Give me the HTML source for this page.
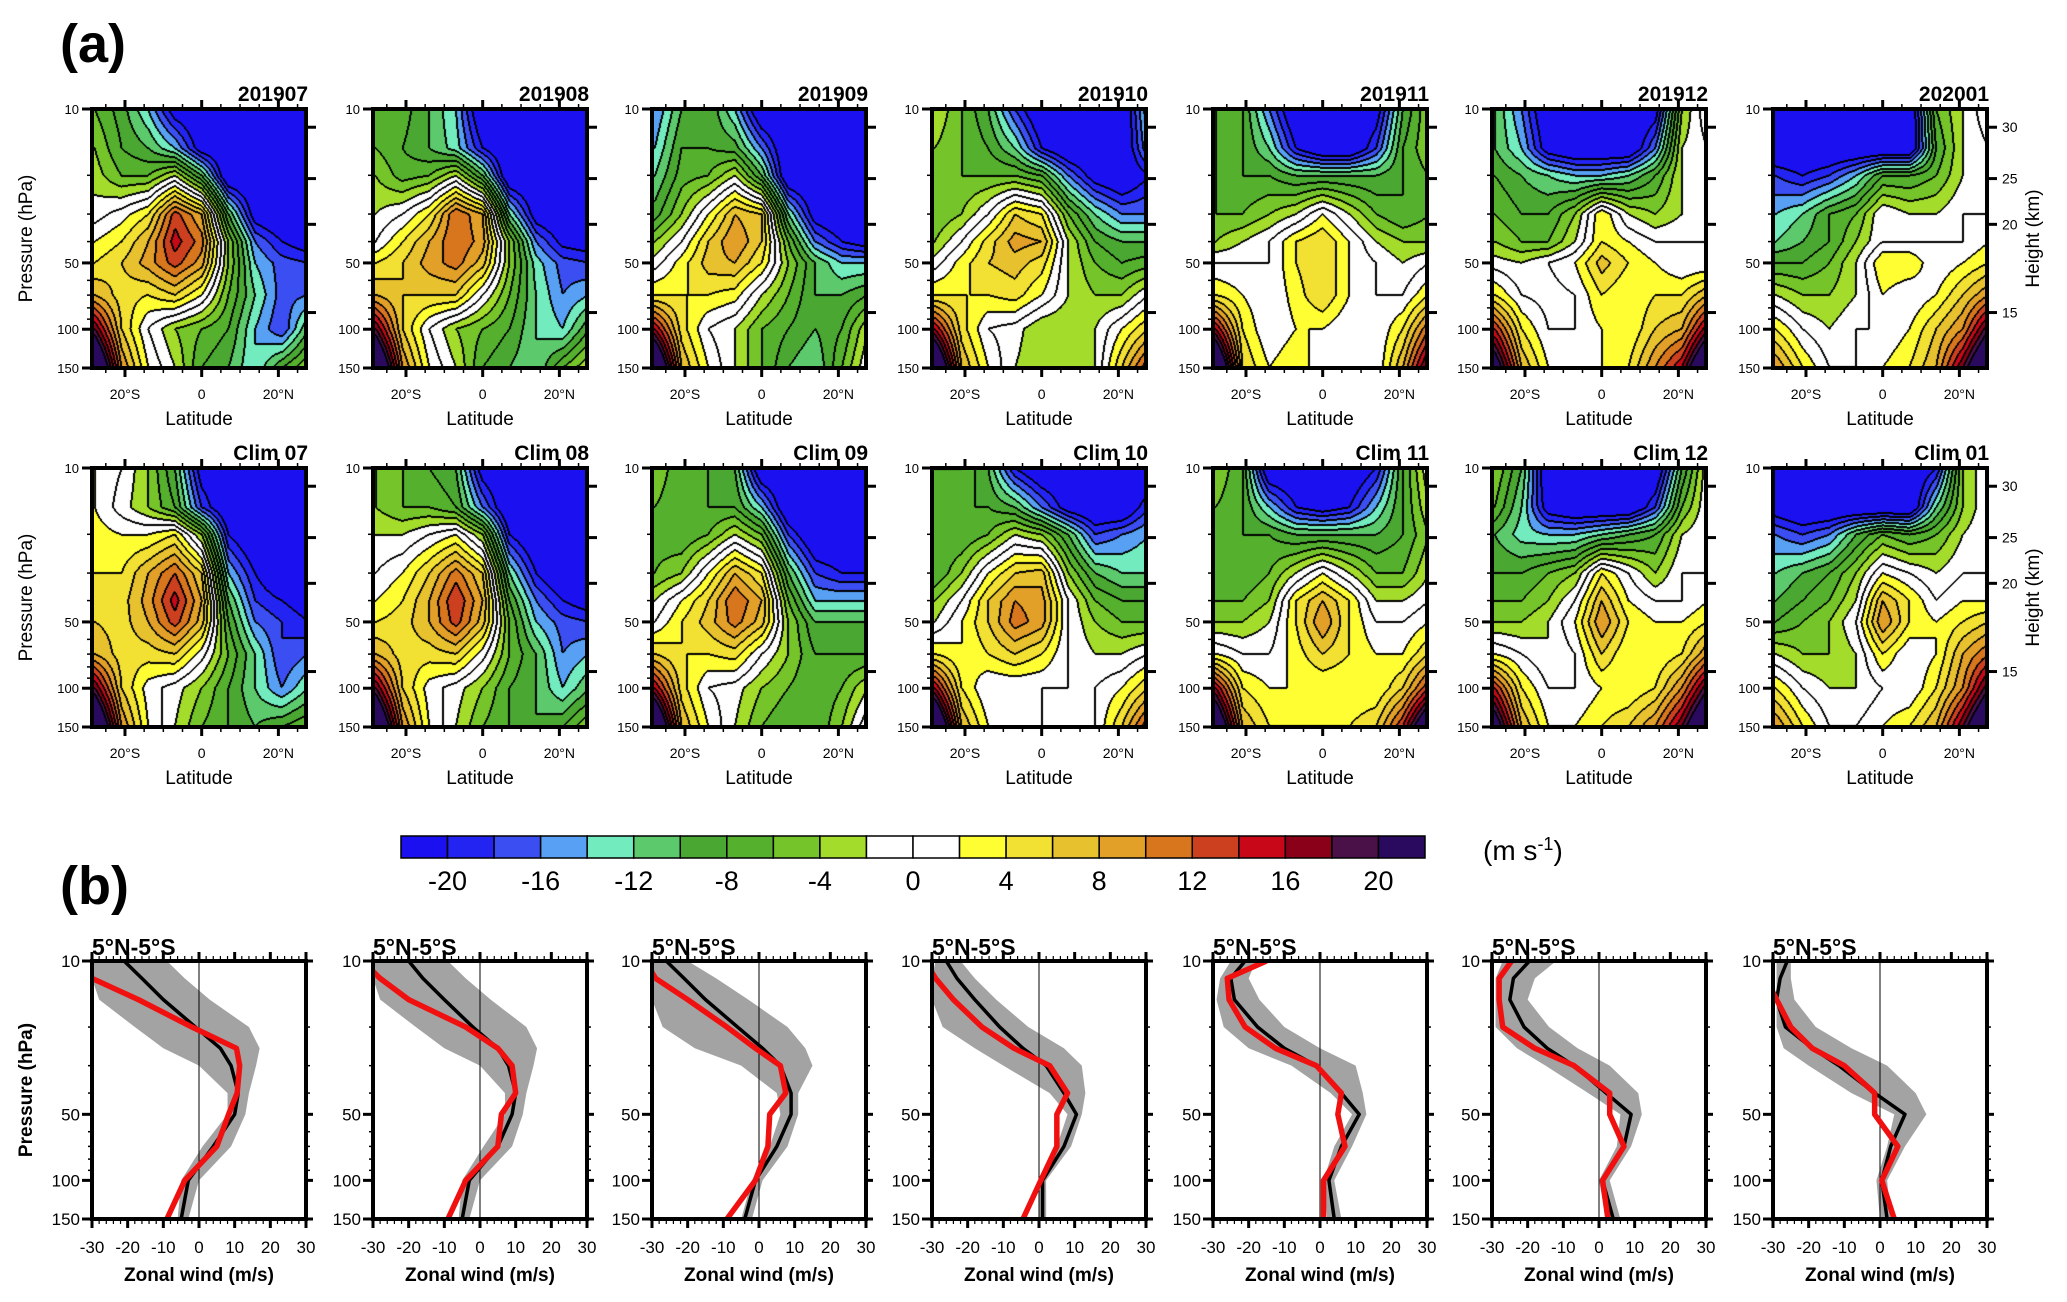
<!DOCTYPE html>
<html><head><meta charset="utf-8">
<style>
html,body{margin:0;padding:0;background:#fff;}
#wrap{position:relative;width:2067px;height:1302px;overflow:hidden;background:#fff;}
#cv{position:absolute;left:0;top:0;}
#ov{position:absolute;left:0;top:0;}
text{font-family:"Liberation Sans Narrow","Liberation Sans",sans-serif;}
</style></head>
<body>
<div id="wrap">
<canvas id="cv" width="2067" height="1302"></canvas>
<svg id="ov" width="2067" height="1302" xmlns="http://www.w3.org/2000/svg"></svg>
</div>
<script>
// ---------- data: contour grids (rows = pressure levels, cols = latitudes) ----------
const levels=[10,15,20,30,40,50,70,100,150];
const lats=[-28,-21,-14,-7,0,7,14,21,28];
const colorbarTicks=[-20,-16,-12,-8,-4,0,4,8,12,16,20];
const topTitles=["201907","201908","201909","201910","201911","201912","202001"];
const climTitles=["Clim 07","Clim 08","Clim 09","Clim 10","Clim 11","Clim 12","Clim 01"];
const obs201907=[[-6,-9,-14,-22,-24,-24,-24,-24,-24],[-4,-8,-10,-14,-22,-24,-24,-24,-24],[-3,-6,-6,-2,-10,-24,-24,-24,-24],[-1,1,4,13,8,-10,-22,-24,-24],[2,4,8,15,11,-4,-16,-20,-22],[4,6,9,13,9,-4,-14,-17,-18],[8,5,4,6,2,-6,-12,-17,-16],[18,6,0,-4,-6,-8,-14,-18,-10],[30,10,2,-2,-8,-10,-14,-8,-4]];
const obs201908=[[-8,-7,-10,-14,-24,-24,-24,-24,-24],[-6,-8,-10,-13,-20,-24,-24,-24,-24],[-4,-7,-6,-2,-10,-24,-24,-24,-24],[-2,0,4,12,8,-12,-22,-24,-24],[0,4,8,12,9,-4,-16,-21,-22],[4,6,9,11,7,-4,-13,-17,-18],[8,6,6,6,0,-6,-12,-16,-14],[18,6,0,-4,-6,-8,-12,-14,-8],[30,10,2,-2,-8,-10,-12,-6,-2]];
const obs201909=[[-16,-10,-8,-14,-24,-24,-24,-24,-24],[-14,-8,-8,-9,-16,-24,-24,-24,-24],[-12,-7,-6,-2,-10,-24,-24,-24,-24],[-9,-4,2,8,6,-12,-22,-24,-24],[-4,0,6,10,6,-6,-16,-20,-22],[-1,3,7,8,4,-4,-10,-14,-14],[4,4,4,3,-2,-6,-10,-10,-8],[16,5,0,-2,-6,-8,-10,-8,-2],[30,8,2,-2,-6,-10,-12,-6,0]];
const obs201910=[[-2,-6,-10,-18,-24,-24,-24,-24,-12],[-4,-6,-8,-12,-20,-24,-24,-24,-14],[-5,-6,-6,-6,-8,-16,-22,-24,-20],[-6,-4,0,6,4,-6,-12,-16,-16],[-4,0,5,9,8,-2,-8,-10,-10],[-1,3,6,7,5,-2,-6,-8,-7],[4,4,4,5,2,-2,-4,-4,0],[16,5,0,-1,-4,-4,-2,2,6],[30,8,2,-2,-4,-4,-2,6,14]];
const obs201911=[[-6,-8,-16,-24,-24,-24,-22,-10,-4],[-6,-8,-12,-20,-24,-24,-18,-8,-4],[-6,-8,-8,-10,-10,-10,-10,-8,-6],[-6,-6,-4,-2,2,-2,-6,-8,-6],[-4,-2,0,4,6,2,-2,-4,-4],[0,0,0,4,6,2,0,-2,0],[4,2,0,3,6,2,0,0,4],[16,4,0,2,2,0,0,4,12],[30,6,2,4,0,0,0,8,20]];
const obs201912=[[-10,-16,-24,-24,-24,-24,-22,-4,2],[-10,-14,-22,-24,-24,-24,-16,-2,0],[-8,-10,-12,-14,-14,-12,-8,-2,0],[-6,-8,-8,-4,4,-2,-4,-2,0],[-4,-6,-6,-2,4,2,0,0,0],[-1,-2,0,2,7,4,2,0,0],[4,0,-1,0,4,2,4,4,8],[14,4,0,0,2,2,6,8,18],[24,8,2,0,2,4,10,16,30]];
const obs202001=[[-24,-24,-24,-24,-24,-24,-6,-2,2],[-24,-24,-24,-24,-24,-24,-8,-2,0],[-18,-20,-18,-14,-8,-8,-6,-2,0],[-14,-12,-8,-6,0,-2,-2,0,0],[-12,-10,-8,-4,0,0,0,0,2],[-8,-8,-6,-2,4,4,0,2,4],[-2,-4,-4,-2,2,0,2,6,10],[4,0,-2,0,0,2,6,10,20],[10,4,0,0,2,4,8,18,30]];
const clim07=[[2,0,-4,-10,-22,-24,-24,-24,-24],[2,-1,-4,-8,-18,-24,-24,-24,-24],[3,2,2,4,-4,-20,-24,-24,-24],[4,4,8,12,6,-14,-20,-24,-24],[5,5,9,15,8,-10,-18,-20,-22],[6,5,8,13,7,-8,-16,-18,-20],[8,5,5,6,1,-6,-12,-18,-16],[18,6,1,-1,-4,-8,-12,-16,-12],[30,10,2,-2,-6,-8,-10,-8,-6]];
const clim08=[[-4,-6,-8,-10,-22,-24,-24,-24,-24],[-4,-6,-6,-8,-16,-24,-24,-24,-24],[-2,-2,0,2,-4,-20,-24,-24,-24],[0,2,6,11,6,-12,-20,-24,-24],[2,4,8,14,8,-8,-16,-20,-22],[4,5,8,13,7,-6,-14,-17,-18],[8,5,5,6,1,-6,-10,-16,-14],[18,6,1,-1,-4,-8,-10,-14,-10],[30,10,2,-2,-6,-8,-10,-8,-4]];
const clim09=[[-4,-8,-8,-10,-24,-24,-24,-24,-24],[-6,-8,-8,-8,-14,-24,-24,-24,-24],[-7,-8,-6,-2,-6,-18,-24,-24,-24],[-6,-4,2,8,4,-10,-18,-20,-20],[-2,2,6,12,8,-6,-14,-14,-14],[0,4,7,11,7,-4,-10,-10,-10],[6,4,4,5,0,-4,-8,-8,-8],[16,5,0,-1,-4,-6,-8,-6,-2],[30,8,2,-2,-6,-8,-8,-4,2]];
const clim10=[[-6,-6,-10,-20,-24,-24,-24,-24,-24],[-8,-8,-8,-10,-16,-22,-24,-24,-18],[-8,-8,-6,-2,-4,-10,-18,-16,-14],[-8,-4,2,6,7,-4,-10,-12,-12],[-4,0,6,10,9,0,-6,-8,-8],[-2,2,6,11,9,0,-4,-6,-6],[4,2,4,6,4,0,-2,-2,0],[16,4,0,0,0,0,0,2,6],[30,8,2,0,0,-2,0,6,14]];
const clim11=[[-4,-8,-24,-24,-24,-24,-20,-8,0],[-6,-8,-14,-20,-22,-20,-14,-8,-2],[-8,-8,-8,-10,-10,-10,-10,-8,-4],[-8,-8,-6,-2,2,-2,-6,-6,-2],[-6,-6,-4,4,8,4,-2,-2,0],[-4,-4,-2,4,10,4,0,0,2],[2,0,0,3,6,4,2,2,6],[16,4,2,2,2,2,2,6,14],[28,8,4,4,4,4,6,14,28]];
const clim12=[[-4,-10,-24,-24,-24,-24,-24,-10,0],[-6,-12,-22,-24,-24,-24,-18,-6,0],[-10,-13,-14,-14,-12,-10,-8,-2,0],[-8,-8,-6,-4,4,0,-4,0,0],[-6,-6,-4,0,8,2,0,0,2],[-4,-4,-2,2,10,4,2,2,4],[2,0,-2,0,6,2,2,4,10],[14,4,0,0,2,2,4,10,20],[24,8,2,2,4,6,10,18,30]];
const clim01=[[-24,-24,-24,-24,-24,-24,-20,-4,0],[-22,-24,-24,-24,-24,-24,-12,-4,0],[-16,-18,-16,-10,-6,-8,-6,-2,0],[-12,-10,-8,-4,2,0,-2,0,0],[-10,-8,-6,-2,8,4,0,2,2],[-8,-6,-4,0,10,4,2,4,6],[-2,-4,-4,-2,4,0,2,8,12],[4,0,-2,-2,0,0,4,10,20],[10,4,0,0,2,4,8,18,30]];

// ---------- data: 5N-5S profiles ----------
const profLevels=[10,12,15,20,25,30,40,50,70,100,150];
const climProf=[
 [-21,-16,-10,-1,6,9,11,10,4,-3,-5],
 [-20,-16,-10,-2,5,8,10,9,5,-3,-5],
 [-26,-21,-15,-6,1,6,9,9,5,-1,-4],
 [-26,-23,-18,-11,-4.5,2,7,10.5,7,1,1],
 [-21,-25,-24,-17.5,-10,-1,6,11,6,2.5,4],
 [-19.5,-24,-25,-21,-14.5,-7,2,9,7,1,4],
 [-26,-28,-29,-26.5,-19,-11.5,-1.5,7,3,0.5,2]];
const obsProf=[
 [-33,-30,-17,-2,10.5,11.4,10.7,8.3,5,-4,-9],
 [-33,-28,-20,-4,5,9,10,6,5,-4,-9],
 [-32,-29,-20,-9,-1,6,7.5,3,2.5,-1,-9],
 [-32,-29,-24,-16,-7,3,8,5,5,0.5,-4.5],
 [-15,-26,-25.5,-21,-12.5,-1,6,5,7,1,1],
 [-24.5,-28,-28,-27,-18,-7,3,3,7,1,2.5],
 [-34,-32,-29,-25,-19,-10,-1.5,-1.5,5,0.5,4]];
const spreadLo=[
 [-30,-30,-28,-18,-10,0,8,8,1,-5,-6],
 [-30,-30,-28,-18,-10,0,7,7,1,-5,-6],
 [-30,-30,-30,-27,-18,-5,5,6,3,-2,-5],
 [-29,-30,-30,-27,-18,-10,3,8,5,0,0],
 [-25,-28,-29,-27,-20,-8,3,9,4,1,2],
 [-27,-29,-29,-29,-23,-15,-3,6,5,0,2],
 [-29,-29,-29,-29,-27,-20,-8,4,2,-1,0]];
const spreadHi=[
 [-9,-4,3,14,17,16,14,13,9,0,-3],
 [-9,-4,3,13,16,15,13,12,9,0,-3],
 [-20,-12,-3,8,13,15,11,11,8,1,-2],
 [-22,-18,-12,-3,7,12,13,12,9,2,2],
 [-18,-20,-17,-10,0,10,12,13,9,4,6],
 [-12,-18,-20,-14,-6,3,11,12,9,3,6],
 [-25,-25,-24,-18,-8,2,10,13,7,2,3]];
const profTicksX=[-30,-20,-10,0,10,20,30];
const pressTicks=[10,50,100,150];
const heightTicks=[30,25,20,15];
const heightTickP=[12.1,20.7,33.4,84];

// ---------- layout ----------
const colL=[92,373,652,932,1213,1492,1773];
const PW=214, PH=259;
const rowT=[109,468];
const profT=961, PPH=258;
const latMin=-28.6, latSpan=55.8;
const palette=['#1a10f0','#2424f2','#3b4ef2','#58a0f4','#72ecbe','#5cca6c','#4aa832','#55b02e','#74c42a','#a4dc2c','#ffffff','#ffffff','#fefe32','#f2e032','#e8c22e','#e2a028','#d8761e','#cc4020','#c80818','#8a0018','#4a1048','#2a0a5e'];

function yFrac(p){return Math.log(p/10)/Math.log(15);}
function hex(c){return [parseInt(c.substr(1,2),16),parseInt(c.substr(3,2),16),parseInt(c.substr(5,2),16)];}
const palRGB=palette.map(hex);
function cidx(v){let i=Math.floor((v+22)/2);return Math.max(0,Math.min(21,i));}
function latX(L,lat){return L+(lat-latMin)/latSpan*PW;}

const cv=document.getElementById('cv');
const ctx=cv.getContext('2d');
const lvF=levels.map(yFrac);
function drawField(grid,L,T){
  const img=ctx.createImageData(PW,PH);
  const idx=new Int16Array(PW*PH);
  const dl=lats[1]-lats[0];
  for(let py=0;py<PH;py++){
    const f=py/(PH-1);
    let i=0;while(i<levels.length-2&&f>lvF[i+1])i++;
    const t=(f-lvF[i])/(lvF[i+1]-lvF[i]);
    for(let px=0;px<PW;px++){
      const lat=latMin+px/(PW-1)*latSpan;
      let xf=(lat-lats[0])/dl;xf=Math.max(0,Math.min(lats.length-1,xf));
      let j=Math.min(Math.floor(xf),lats.length-2);const u=xf-j;
      const v=(1-t)*((1-u)*grid[i][j]+u*grid[i][j+1])+t*((1-u)*grid[i+1][j]+u*grid[i+1][j+1]);
      idx[py*PW+px]=cidx(v);
    }
  }
  for(let py=0;py<PH;py++)for(let px=0;px<PW;px++){
    const k=py*PW+px;const c=idx[k];
    let edge=false;
    if(px<PW-1&&idx[k+1]!==c)edge=true;
    if(px>0&&idx[k-1]!==c)edge=true;
    if(py<PH-1&&idx[k+PW]!==c)edge=true;
    if(py>0&&idx[k-PW]!==c)edge=true;
    const rgb=edge?[0,0,0]:palRGB[c];
    img.data[k*4]=rgb[0];img.data[k*4+1]=rgb[1];img.data[k*4+2]=rgb[2];img.data[k*4+3]=255;
  }
  ctx.putImageData(img,L,T);
}
const topGrids=[obs201907,obs201908,obs201909,obs201910,obs201911,obs201912,obs202001];
const climGrids=[clim07,clim08,clim09,clim10,clim11,clim12,clim01];
topGrids.forEach((g,k)=>drawField(g,colL[k],rowT[0]));
climGrids.forEach((g,k)=>drawField(g,colL[k],rowT[1]));

// ---------- SVG overlay ----------
const NS='http://www.w3.org/2000/svg';
const svg=document.getElementById('ov');
function mk(tag,attrs,parent){const e=document.createElementNS(NS,tag);for(const a in attrs)e.setAttribute(a,attrs[a]);(parent||svg).appendChild(e);return e;}
function txt(s,x,y,size,anchor,weight,parent){const e=mk('text',{x:x,y:y,'font-size':size,'text-anchor':anchor||'start','font-weight':weight||'normal',fill:'#000'},parent);e.textContent=s;return e;}

let e;
e=txt('(a)',60,62,54,'start','bold');


e=txt('(b)',60,904,54,'start','bold');



function contourAxes(k,T,title){
  const L=colL[k];
  const g=mk('g',{});
  
  
  mk('rect',{x:L,y:T,width:PW,height:PH,fill:'none',stroke:'#000','stroke-width':4},g);
  for(let lat=-25;lat<=25;lat+=5){
    const x=latX(L,lat);const maj=(lat%20===0);
    mk('line',{x1:x,x2:x,y1:T,y2:T-(maj?9:5),stroke:'#000','stroke-width':maj?3:1.5},g);
    mk('line',{x1:x,x2:x,y1:T+PH,y2:T+PH+(maj?9:5),stroke:'#000','stroke-width':maj?3:1.5},g);
  }
  [[-20,'20°S'],[0,'0'],[20,'20°N']].forEach(a=>{txt(a[1],latX(L,a[0]),T+PH+31,14,'middle','normal',g);});
  const xl=txt('Latitude',L+PW/2,T+PH+57,19,'middle','normal',g);
  
  
  [10,20,30,40,50,60,70,80,90,100,150].forEach(p=>{const y=T+yFrac(p)*PH;const maj=pressTicks.indexOf(p)>=0;
    mk('line',{x1:L,x2:L-(maj?10:5),y1:y,y2:y,stroke:'#000','stroke-width':maj?3:1.5},g);});
  pressTicks.forEach(p=>txt(String(p),L-13,T+yFrac(p)*PH+5,13,'end','normal',g));
  heightTickP.forEach((p,i)=>{const y=T+yFrac(p)*PH;mk('line',{x1:L+PW,x2:L+PW+10,y1:y,y2:y,stroke:'#000','stroke-width':3},g);
    if(k===6)txt(String(heightTicks[i]),L+PW+15,y+5,14,'start','normal',g);});
  if(k===6){const t=txt('Height (km)',0,0,19,'middle','normal',g);t.setAttribute('transform','translate('+(L+PW+52)+','+(T+PH/2)+') rotate(-90)');}
  if(k===0){const t=txt('Pressure (hPa)',0,0,19,'middle','normal',g);t.setAttribute('transform','translate(32,'+(T+PH/2)+') rotate(-90)');}
  const tt=txt(title,L+PW+2,T-8,21,'end','bold',g);
  
  
}
topTitles.forEach((t,k)=>contourAxes(k,rowT[0],t));
climTitles.forEach((t,k)=>contourAxes(k,rowT[1],t));

// ---------- colorbar ----------
const cbL=401,cbR=1425,cbT=836,cbH=22;
const cb=mk('g',{});


const bw=(cbR-cbL)/palette.length;
palette.forEach((c,i)=>{const r=mk('rect',{x:cbL+i*bw,y:cbT,width:bw,height:cbH,fill:c,stroke:'#000','stroke-width':1.5},cb);
  
  });
colorbarTicks.forEach(v=>{const x=cbL+(v+22)/2*bw;txt(String(v),x,cbT+cbH+32,27,'middle','normal',cb);});
const un=mk('text',{x:1483,y:860,'font-size':28,fill:'#000'},cb);


un.innerHTML='(m s<tspan dy="-10" font-size="18">-1</tspan><tspan dy="10">)</tspan>';

// ---------- profiles ----------
function px(L,v){return L+(v+30)/60*PW;}
function py(p){return profT+yFrac(p)*PPH;}
mk('defs',{}).innerHTML=colL.map((L,k)=>'<clipPath id="pc'+k+'"><rect x="'+L+'" y="'+profT+'" width="'+PW+'" height="'+PPH+'"/></clipPath>').join('');
colL.forEach((L,k)=>{
  const g=mk('g',{});
  
  
  const inner=mk('g',{'clip-path':'url(#pc'+k+')'},g);
  const up=profLevels.map((p,i)=>px(L,spreadHi[k][i])+','+py(p));
  const lo=profLevels.map((p,i)=>px(L,spreadLo[k][i])+','+py(p)).reverse();
  const band=mk('polygon',{points:up.concat(lo).join(' '),fill:'#a3a3a3',stroke:'none'},inner);
  
  
  mk('line',{x1:px(L,0),x2:px(L,0),y1:profT,y2:profT+PPH,stroke:'#000','stroke-width':1},inner);
  const bl=mk('polyline',{points:profLevels.map((p,i)=>px(L,climProf[k][i])+','+py(p)).join(' '),fill:'none',stroke:'#000','stroke-width':3.5,'stroke-linejoin':'round'},inner);
  
  
  const rl=mk('polyline',{points:profLevels.map((p,i)=>px(L,obsProf[k][i])+','+py(p)).join(' '),fill:'none',stroke:'#f01010','stroke-width':5.5,'stroke-linejoin':'round'},inner);
  
  
  mk('rect',{x:L,y:profT,width:PW,height:PPH,fill:'none',stroke:'#000','stroke-width':4},g);
  for(let v=-30;v<=30;v+=2){const x=px(L,v);const maj=(v%10===0);
    mk('line',{x1:x,x2:x,y1:profT,y2:profT-(maj?9:5),stroke:'#000','stroke-width':maj?3:1.2},g);
    mk('line',{x1:x,x2:x,y1:profT+PPH,y2:profT+PPH+(maj?9:5),stroke:'#000','stroke-width':maj?3:1.2},g);}
  profTicksX.forEach(v=>txt(String(v),px(L,v),profT+PPH+34,17,'middle','normal',g));
  [10,20,30,40,50,60,70,80,90,100,150].forEach(p=>{const maj=pressTicks.indexOf(p)>=0;
    mk('line',{x1:L,x2:L-(maj?10:4),y1:py(p),y2:py(p),stroke:'#000','stroke-width':maj?3:1.5},g);
    mk('line',{x1:L+PW,x2:L+PW+(maj?7:4),y1:py(p),y2:py(p),stroke:'#000','stroke-width':maj?3:1.5},g);});
  pressTicks.forEach(p=>txt(String(p),L-12,py(p)+6,17,'end','normal',g));
  const xt=txt('Zonal wind (m/s)',L+PW/2,profT+PPH+62,19,'middle','bold',g);
  
  
  const tt=txt('5°N-5°S',L,profT-6,23,'start','bold',g);
  
  
  if(k===0){const t=txt('Pressure (hPa)',0,0,19,'middle','bold',g);t.setAttribute('transform','translate(32,'+(profT+PPH/2)+') rotate(-90)');
    
    }
});
</script>
</body></html>
